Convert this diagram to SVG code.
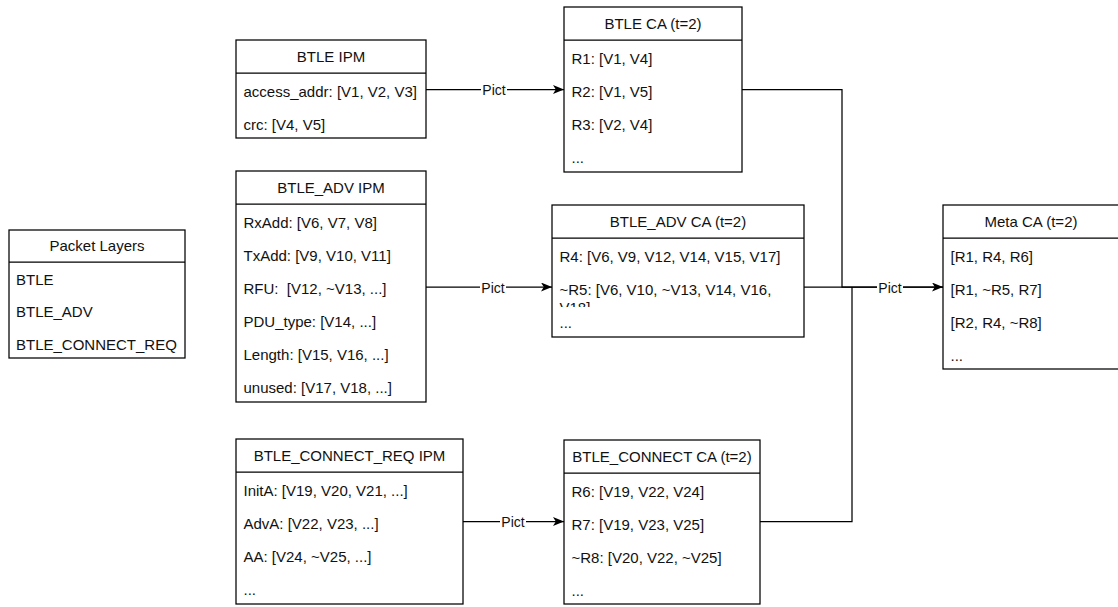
<svg xmlns="http://www.w3.org/2000/svg" width="1118" height="607" viewBox="0 0 1118 607">
  <style>
    .box { fill: #ffffff; stroke: #000000; stroke-width: 1.25; }
    .sep { stroke: #000000; stroke-width: 1.25; }
    text { font-family: "Liberation Sans", Arial, Helvetica, sans-serif; fill: #111111; }
    .title { font-size: 15px; text-anchor: middle; }
    .item { font-size: 15px; }
    .edge { fill: none; stroke: #000000; stroke-width: 1.25; }
    .lbl-bg { fill: #ffffff; }
    .lbl { font-size: 14px; text-anchor: middle; }
  </style>
  <defs>
    <marker id="arrow" markerUnits="userSpaceOnUse" viewBox="0 0 11 9" markerWidth="11" markerHeight="9" refX="11" refY="4.5" orient="auto">
      <path d="M0,0 L11,4.5 L0,9 L2.8,4.5 Z" fill="#000000"/>
    </marker>
    <clipPath id="clip-r5">
      <rect x="552" y="271" width="252" height="36"/>
    </clipPath>
  </defs>
  <rect width="1118" height="607" fill="#ffffff"/>

  <!-- connectors -->
  <g id="connectors">
    <path class="edge" d="M426,89.5 H564" marker-end="url(#arrow)"/>
    <path class="edge" d="M426,287 H552" marker-end="url(#arrow)"/>
    <path class="edge" d="M463,521.5 H564" marker-end="url(#arrow)"/>
    <path class="edge" d="M742,89.5 H842 V287 H943" marker-end="url(#arrow)"/>
    <path class="edge" d="M804,287 H943"/>
    <path class="edge" d="M760,521.5 H852 V287"/>
    <!-- edge labels -->
    <rect class="lbl-bg" x="481" y="83" width="26" height="13"/>
    <text class="lbl" x="494" y="95">Pict</text>
    <rect class="lbl-bg" x="480" y="280.5" width="26" height="13"/>
    <text class="lbl" x="493" y="292.5">Pict</text>
    <rect class="lbl-bg" x="500" y="515" width="26" height="13"/>
    <text class="lbl" x="513" y="527">Pict</text>
    <rect class="lbl-bg" x="877" y="280.5" width="26" height="13"/>
    <text class="lbl" x="890" y="292.5">Pict</text>
  </g>

  <!-- packet layer list -->
  <g id="packet-layers">
    <rect class="box" x="9" y="230" width="176" height="128"/>
    <line class="sep" x1="9" y1="262" x2="185" y2="262"/>
    <text class="title" x="97" y="251">Packet Layers</text>
    <text class="item" x="16" y="285">BTLE</text>
    <text class="item" x="16" y="317">BTLE_ADV</text>
    <text class="item" x="16" y="350">BTLE_CONNECT_REQ</text>
  </g>

  <!-- input parameter models -->
  <g id="btle-ipm">
    <rect class="box" x="236" y="40" width="190" height="98"/>
    <line class="sep" x1="236" y1="73" x2="426" y2="73"/>
    <text class="title" x="331" y="62">BTLE IPM</text>
    <text class="item" x="243.5" y="96.5">access_addr: [V1, V2, V3]</text>
    <text class="item" x="243.5" y="129.5">crc: [V4, V5]</text>
  </g>

  <g id="btle-adv-ipm">
    <rect class="box" x="236" y="171" width="190" height="231"/>
    <line class="sep" x1="236" y1="204" x2="426" y2="204"/>
    <text class="title" x="331" y="193">BTLE_ADV IPM</text>
    <text class="item" x="243.5" y="227.5">RxAdd: [V6, V7, V8]</text>
    <text class="item" x="243.5" y="260.5">TxAdd: [V9, V10, V11]</text>
    <text class="item" x="243.5" y="293.5" xml:space="preserve">RFU:  [V12, ~V13, ...]</text>
    <text class="item" x="243.5" y="326.5">PDU_type: [V14, ...]</text>
    <text class="item" x="243.5" y="359.5">Length: [V15, V16, ...]</text>
    <text class="item" x="243.5" y="392.5">unused: [V17, V18, ...]</text>
  </g>

  <g id="btle-connect-req-ipm">
    <rect class="box" x="236" y="439" width="227" height="165"/>
    <line class="sep" x1="236" y1="472" x2="463" y2="472"/>
    <text class="title" x="349.5" y="461">BTLE_CONNECT_REQ IPM</text>
    <text class="item" x="243.5" y="496">InitA: [V19, V20, V21, ...]</text>
    <text class="item" x="243.5" y="529">AdvA: [V22, V23, ...]</text>
    <text class="item" x="243.5" y="562">AA: [V24, ~V25, ...]</text>
    <text class="item" x="243.5" y="595">...</text>
  </g>

  <!-- covering arrays -->
  <g id="btle-ca">
    <rect class="box" x="564" y="7" width="178" height="165"/>
    <line class="sep" x1="564" y1="40" x2="742" y2="40"/>
    <text class="title" x="653" y="29">BTLE CA (t=2)</text>
    <text class="item" x="571.5" y="63.5">R1: [V1, V4]</text>
    <text class="item" x="571.5" y="96.5">R2: [V1, V5]</text>
    <text class="item" x="571.5" y="129.5">R3: [V2, V4]</text>
    <text class="item" x="571.5" y="162.5">...</text>
  </g>

  <g id="btle-adv-ca">
    <rect class="box" x="552" y="205" width="252" height="132"/>
    <line class="sep" x1="552" y1="238" x2="804" y2="238"/>
    <text class="title" x="678" y="227">BTLE_ADV CA (t=2)</text>
    <text class="item" x="559.5" y="261.5">R4: [V6, V9, V12, V14, V15, V17]</text>
    <g clip-path="url(#clip-r5)">
      <text class="item" x="559.5" y="294.5">~R5: [V6, V10, ~V13, V14, V16,</text>
      <text class="item" x="559.5" y="312.5">V18]</text>
    </g>
    <text class="item" x="559.5" y="327.5">...</text>
  </g>

  <g id="btle-connect-ca">
    <rect class="box" x="564" y="440" width="196" height="164"/>
    <line class="sep" x1="564" y1="473" x2="760" y2="473"/>
    <text class="title" x="662" y="462">BTLE_CONNECT CA (t=2)</text>
    <text class="item" x="571.5" y="496.5">R6: [V19, V22, V24]</text>
    <text class="item" x="571.5" y="529.5">R7: [V19, V23, V25]</text>
    <text class="item" x="571.5" y="562.5">~R8: [V20, V22, ~V25]</text>
    <text class="item" x="571.5" y="595.5">...</text>
  </g>

  <g id="meta-ca">
    <rect class="box" x="943" y="205" width="176" height="164"/>
    <line class="sep" x1="943" y1="238" x2="1119" y2="238"/>
    <text class="title" x="1031" y="227">Meta CA (t=2)</text>
    <text class="item" x="950.5" y="261.5">[R1, R4, R6]</text>
    <text class="item" x="950.5" y="294.5">[R1, ~R5, R7]</text>
    <text class="item" x="950.5" y="327.5">[R2, R4, ~R8]</text>
    <text class="item" x="950.5" y="360.5">...</text>
  </g>
</svg>
